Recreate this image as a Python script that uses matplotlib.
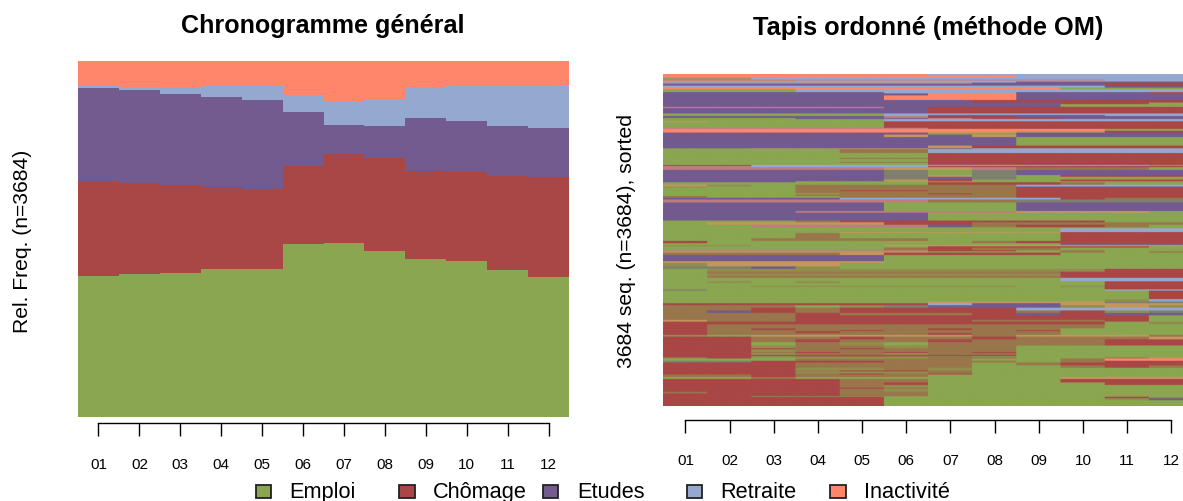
import numpy as np
import matplotlib
matplotlib.use("Agg")
import matplotlib.pyplot as plt
from matplotlib.colors import to_rgb
from matplotlib.patches import Rectangle

plt.rcParams['font.family'] = ['Liberation Sans', 'DejaVu Sans']

W, H = 1183, 502

months = ["01", "02", "03", "04", "05", "06", "07", "08", "09", "10", "11", "12"]
states = ["Emploi", "Chômage", "Etudes", "Retraite", "Inactivité"]
colors = ["#8AA650", "#A94646", "#735A8F", "#95A9D0", "#FF866A"]

# chronogramme: share of each state per month
emploi = [.394, .401, .404, .415, .414, .486, .487, .465, .442, .437, .413, .392]
chomage = [.268, .255, .246, .230, .225, .218, .251, .261, .248, .251, .263, .282]
etudes = [.262, .262, .256, .254, .251, .152, .082, .092, .149, .142, .142, .138]
retraite = [.005, .010, .019, .030, .039, .049, .066, .075, .087, .103, .114, .120]
inactivite = [.071, .071, .074, .071, .071, .095, .115, .107, .073, .068, .068, .068]

# tapis: one string per group of identical sequences, top to bottom
# E C T R I = states, the lowercase letters are cells too thin to tell apart:
# m = Emploi/Chômage, l = mostly Emploi with some Chômage, n = Emploi/Etudes,
# p = Inactivité/Retraite, q = Inactivité/Emploi
tapis_rows = [
    "IIIRRRRRRRRR", "IIIIIIRRRRRR", "IIIIIIIIRRRR", "EERRRRRRRRRR", "ppRRRRRRRRRR",
    "ppppppppppRR", "qqqRRRRRRRRR", "RRRRRRRRTTTT", "pppppppTTTCC", "TTTTTTTTTTCC",
    "RRRRRRRRRRTT", "IIIIIIIIIEEE", "EEERRRRRRRRR", "TTTTTRRRTTTC", "TTTTTTIITTTT",
    "TTTTTIIITTTT", "TTTTTTTCCCCC", "TTTTTTTTTCCE", "TTTTTTTTTEEE", "pppppTCCCCCC",
    "TTTTTTCCCCCC", "EEEEERRRRRRR", "EEEEERTTTTRR", "TTTTTpCCTTTT", "EEETTTpCCTTT",
    "EEEEERRRRRRR", "qEEEECCCCCCC", "EEEEECCCCCCC", "ppppppCCCCCC", "IIIIIIIIIIEE",
    "IIIIIIIIqqCC", "TTTTTTEETTTT", "TTTTTqTqTTTT", "TTTTTTTTEEEE", "TTTTTTqCCCCC",
    "EEqqqqTRRRRR", "EEEEmmRRRRRR", "EEEEEECCCCCC", "EEEEEECCCCCC", "EEEEmmCCCCCC",
    "EEEEEECCCCCC", "EEEEmmCCCCCC", "EEEEEECCCCCC", "CCRRRRRRRRRE", "ppRRRRCCCCCC",
    "pppppqqpmmmE", "TTTTTnEnTTTT", "TTTTTnqnECCC", "TTTTTnTnEEEE", "TTTTTqCEECCC",
    "TTTEEEEEEEEE", "EEEEEECCCmEE", "qlEmmmmmRRRR", "lEEmmmmmTTTT", "EEEmmmmmCCCC",
    "EEEmCCmmCCCC", "EEEmmmmmCCCC", "EEEEmmCmCCCC", "EEEmmmmmCCCC", "mEEEmmmmCCCC",
    "TTTTRRRRRCmm", "ppppppmmnnnn", "TTTTTEEETTTT", "TTTpppppqqqE", "TTTTTTEEEEEE",
    "EEEmCCCCCCEE", "EqqqqCCmmmmm", "EEppppTmCCmE", "EEEEEEEEEEEE", "EEEEEEEEERRR",
    "EEEEqqqqqCCC", "EEEmEEEEECCC", "EEmmmmEEECCC", "CEEEEEEmCCCC", "EEEEEEEEETTT",
    "llEEEqqqqqqq", "EEEEEECCCCCE", "EEEEEmCmmEEE", "ppppppCCEmEE", "qqqqqqEEEmEm",
    "mmmmqCCCCEEE", "TTTTTEEEEEEE", "qqqqqEEEEEEE", "lqqqEEEEEEEE", "nnTlEEEEEEEE",
    "ElllllllllCC", "EmmmmmmmmCCC", "EllllllllCCC", "EmmmmmmmmCCC", "EEEEEEEEERRR",
    "ElElEEEEEECC", "EEEEEEEEEECC", "EEllllllElCC", "EEEEEEEEEECC", "nEEEEEEEEERR",
    "EEEEEEEEEEEC", "EEEEEEEEEElR", "EEEEEEqqqqnn", "CCCCCCRTTqqq", "mmmElnTTTlql",
    "mmCmCCCCRRRR", "mTCmCCCCmCln", "mmmCmmmCTCTT", "mmmCCCCCCCCE", "qmmCCCCmmmCE",
    "CCCCCCCCCCEl", "CmmmmmmmmmEE", "CmCmmmCmmEEE", "CmmmCmmmCEEE", "CmmCmmmmmEEE",
    "CmmmmmCmmEEE", "lEqqqqqmqqqm", "CCmmCmmCmmmq", "CCmCmmCmmmCC", "CCEmlEmmmmCC",
    "CClmmlmmEEEE", "CCCmCmmmEEEE", "CClmmmmmEEEE", "CCmCmCmCEEEE", "CClmmlmmEEEE",
    "CCCCCCCCEEEE", "CClmmmmlEEEE", "lCEEEEmmEEmq", "EEEmmmmEEmII", "nnCCCmmmEmCC",
    "CCCmmmmEmCCC", "CCCmmmmEEmCm", "CCCllmlEEEEE", "CCCmCCmEEEEE", "CCClllmEEEEE",
    "CCCmCmCEEEEE", "mmCmmmEEEEEE", "EEmEEEEEEqqq", "CCCCmmEEECCC", "CCCCmCEEEECC",
    "CCCCmlEEEEEE", "CCCCCmEEEEEE", "CCCCmlEEEEEE", "mCCCmmEEEEEE", "CCCCmmEEEEEE",
    "CClllEEEEElE", "CCCCCEEEEECl", "CCCCCEEEEElT", "CCCCCEEEEEEE",
]
tapis_counts = [
    11, 11, 28, 11, 11,
    11, 11, 11, 14, 19,
    22, 19, 30, 14, 22,
    50, 28, 17, 30, 14,
    58, 17, 11, 22, 11,
    25, 11, 60, 11, 22,
    19, 22, 27, 93, 30,
    8, 44, 19, 33, 11,
    33, 11, 22, 11, 14,
    30, 56, 19, 30, 19,
    11, 27, 19, 11, 30,
    11, 22, 11, 19, 19,
    19, 33, 93, 19, 85,
    19, 27, 28, 11, 41,
    11, 56, 30, 25, 19,
    14, 14, 30, 11, 14,
    27, 67, 19, 38, 27,
    30, 22, 24, 22, 38,
    19, 30, 14, 25, 14,
    93, 25, 19, 22, 27,
    30, 27, 27, 49, 19,
    30, 44, 19, 11, 22,
    19, 19, 30, 30, 37,
    30, 11, 30, 11, 22,
    11, 16, 11, 25, 19,
    30, 27, 30, 11, 22,
    11, 27, 22, 38, 27,
    30, 11, 33, 19, 30,
    8, 14, 22, 63,
]

state_rgb = dict(zip("ECTRI", [np.array(to_rgb(c)) for c in colors]))
state_rgb["m"] = (state_rgb["E"] + state_rgb["C"]) / 2
state_rgb["l"] = (3 * state_rgb["E"] + state_rgb["C"]) / 4
state_rgb["n"] = (state_rgb["E"] + state_rgb["T"]) / 2
state_rgb["p"] = (state_rgb["I"] + state_rgb["R"] + state_rgb["C"]) / 3
state_rgb["q"] = (state_rgb["I"] + state_rgb["E"]) / 2

fig = plt.figure(figsize=(W / 100, H / 100), dpi=100)

x = np.arange(1, 13)


def style_axis(ax, outward):
    for side in ["top", "left", "right"]:
        ax.spines[side].set_visible(False)
    ax.spines["bottom"].set_position(("outward", outward))
    ax.spines["bottom"].set_bounds(1, 12)
    ax.spines["bottom"].set_linewidth(1.0)
    ax.set_yticks([])
    ax.set_xticks(x, months)
    ax.set_xlim(0.5, 12.5)
    ax.tick_params(axis="x", length=9.2, width=1.0, pad=15, labelsize=11)


# left panel
ax1 = fig.add_axes([78 / W, 1 - 417.5 / H, 491 / W, 355.5 / H])
bottom = np.zeros(12)
for values, col in zip([emploi, chomage, etudes, retraite, inactivite], colors):
    ax1.bar(x, values, width=1, bottom=bottom, color=col, linewidth=0)
    bottom += np.array(values)
ax1.set_ylim(0, 1)
style_axis(ax1, 5)
fig.text(323 / W, 1 - 26 / H, "Chronogramme général", fontsize=18.1, fontweight="bold",
         ha="center", va="center")
fig.text(23 / W, 1 - 241 / H, "Rel. Freq. (n=3684)", fontsize=15.2, rotation=90,
         ha="center", va="center")

# right panel
ax2 = fig.add_axes([663.4 / W, 1 - 407.5 / H, 530 / W, 332.5 / H])
rows = np.repeat(np.array([list(r) for r in tapis_rows]), tapis_counts, axis=0)
img = np.array([[state_rgb[c] for c in row] for row in rows])
img = np.repeat(img, 40, axis=1)
ax2.imshow(img, aspect="auto", extent=(0.5, 12.5, rows.shape[0], 0), interpolation="hanning")
style_axis(ax2, 9.5)
fig.text(928 / W, 1 - 28 / H, "Tapis ordonné (méthode OM)", fontsize=18.3, fontweight="bold",
         ha="center", va="center")
fig.text(627 / W, 1 - 241 / H, "3684 seq. (n=3684), sorted", fontsize=15.2, rotation=90,
         ha="center", va="center")

# legend along the bottom edge, R style with equal columns
for i, (name, col) in enumerate(zip(states, colors)):
    sx = 255.5 + i * 143.7
    fig.add_artist(Rectangle((sx / W, 1 - 499 / H), 15.5 / W, 13 / H, transform=fig.transFigure,
                             facecolor=col, edgecolor="#222222", linewidth=1.3))
    fig.text((sx + 34) / W, 1 - 493 / H, name, fontsize=15.7, ha="left", va="center")

fig.savefig("out.png", dpi=100)
